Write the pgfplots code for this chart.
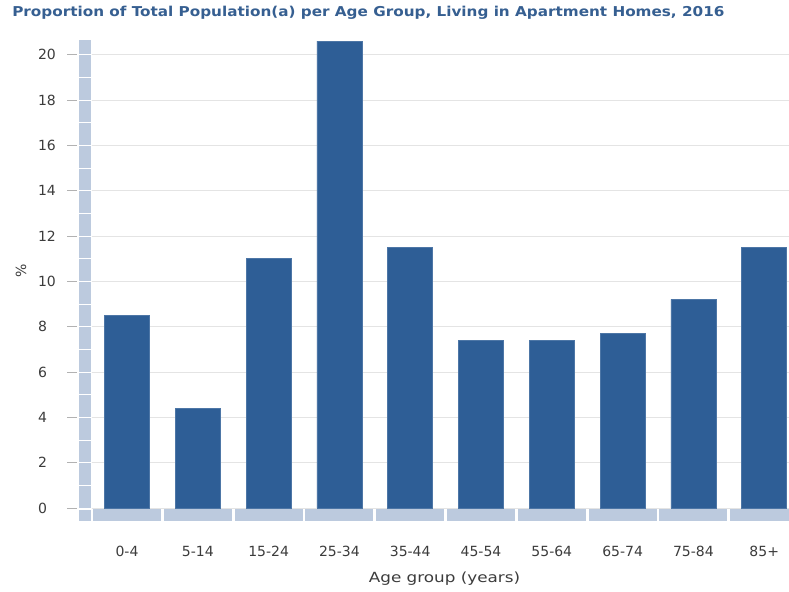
\documentclass[border=0pt]{standalone}
\usepackage{pgfplots}
\pgfplotsset{compat=1.18}
\usepackage{fontspec}
\setmainfont{DejaVu Sans}
\definecolor{barblue}{RGB}{46,94,150}
\definecolor{bandblue}{RGB}{188,202,222}
\definecolor{titleblue}{RGB}{54,95,145}
\definecolor{txtgray}{RGB}{60,60,60}
\definecolor{gridgray}{RGB}{228,228,228}
\begin{document}
\begin{tikzpicture}
\path[use as bounding box, fill=white] (0,0) rectangle (591.75pt,444pt);
\node[anchor=base west, inner sep=0pt, text=titleblue, font=\fontsize{10.2}{12}\selectfont\bfseries] at (9pt,431.5pt) {\scalebox{1.12}[1]{Proportion of Total Population(a) per Age Group, Living in Apartment Homes, 2016}};
\begin{axis}[
  at={(68.7pt,63pt)}, anchor=south west,
  scale only axis, width=523.05pt, height=351pt,
  xmin=-0.5, xmax=9.35, ymin=0, ymax=20.65,
  clip=false,
  axis line style={draw=none},
  tick style={draw=none},
  xtick={0,...,9},
  xticklabels={0-4,5-14,15-24,25-34,35-44,45-54,55-64,65-74,75-84,85+},
  ytick={0,2,...,20},
  ymajorgrids, grid style={gridgray, line width=0.6pt},
  ticklabel style={font=\fontsize{10.5}{12}\selectfont, text=txtgray},
  /pgf/number format/assume math mode=true,
  xticklabel style={anchor=north, inner sep=0pt, yshift=-28.3pt},
  yticklabel style={anchor=west, inner sep=0pt, xshift=-40.4pt},
]
\pgfplotsinvokeforeach{0,...,9}{
  \fill[bandblue] ([yshift=-0.75pt]axis cs:#1-0.48,0) rectangle ([yshift=-9.75pt]axis cs:#1+0.48,0);
}
\fill[bandblue] ([xshift=-9.45pt]axis cs:-0.5,20.65) rectangle ([xshift=-0.7pt,yshift=-9.75pt]axis cs:-0.5,0);
\pgfplotsinvokeforeach{0,...,20}{
  \draw[white, line width=0.6pt] ([xshift=-9.45pt]axis cs:-0.5,#1) -- ([xshift=-0.7pt]axis cs:-0.5,#1);
}
\draw[white, line width=0.6pt] ([xshift=-9.45pt,yshift=-0.75pt]axis cs:-0.5,0) -- ([xshift=-0.7pt,yshift=-0.75pt]axis cs:-0.5,0);
\pgfplotsinvokeforeach{0,2,...,20}{
  \draw[gray!60, line width=0.6pt] ([xshift=-18.45pt]axis cs:-0.5,#1) -- ([xshift=-10.95pt]axis cs:-0.5,#1);
}
\addplot[ybar, bar width=33.75pt, fill=barblue, draw=barblue!85!white, line width=0.4pt] coordinates {
  (0,8.5) (1,4.4) (2,11.0) (3,20.6) (4,11.5) (5,7.4) (6,7.4) (7,7.7) (8,9.2) (9,11.5)
};
\end{axis}
\node[anchor=base, inner sep=0pt, text=txtgray, font=\fontsize{10.5}{12}\selectfont] at (333.4pt,6.75pt) {\scalebox{1.2}[1]{Age group (years)}};
\node[rotate=90, inner sep=0pt, text=txtgray, font=\fontsize{10.5}{12}\selectfont] at (15.75pt,240.75pt) {\%};
\end{tikzpicture}
\end{document}
